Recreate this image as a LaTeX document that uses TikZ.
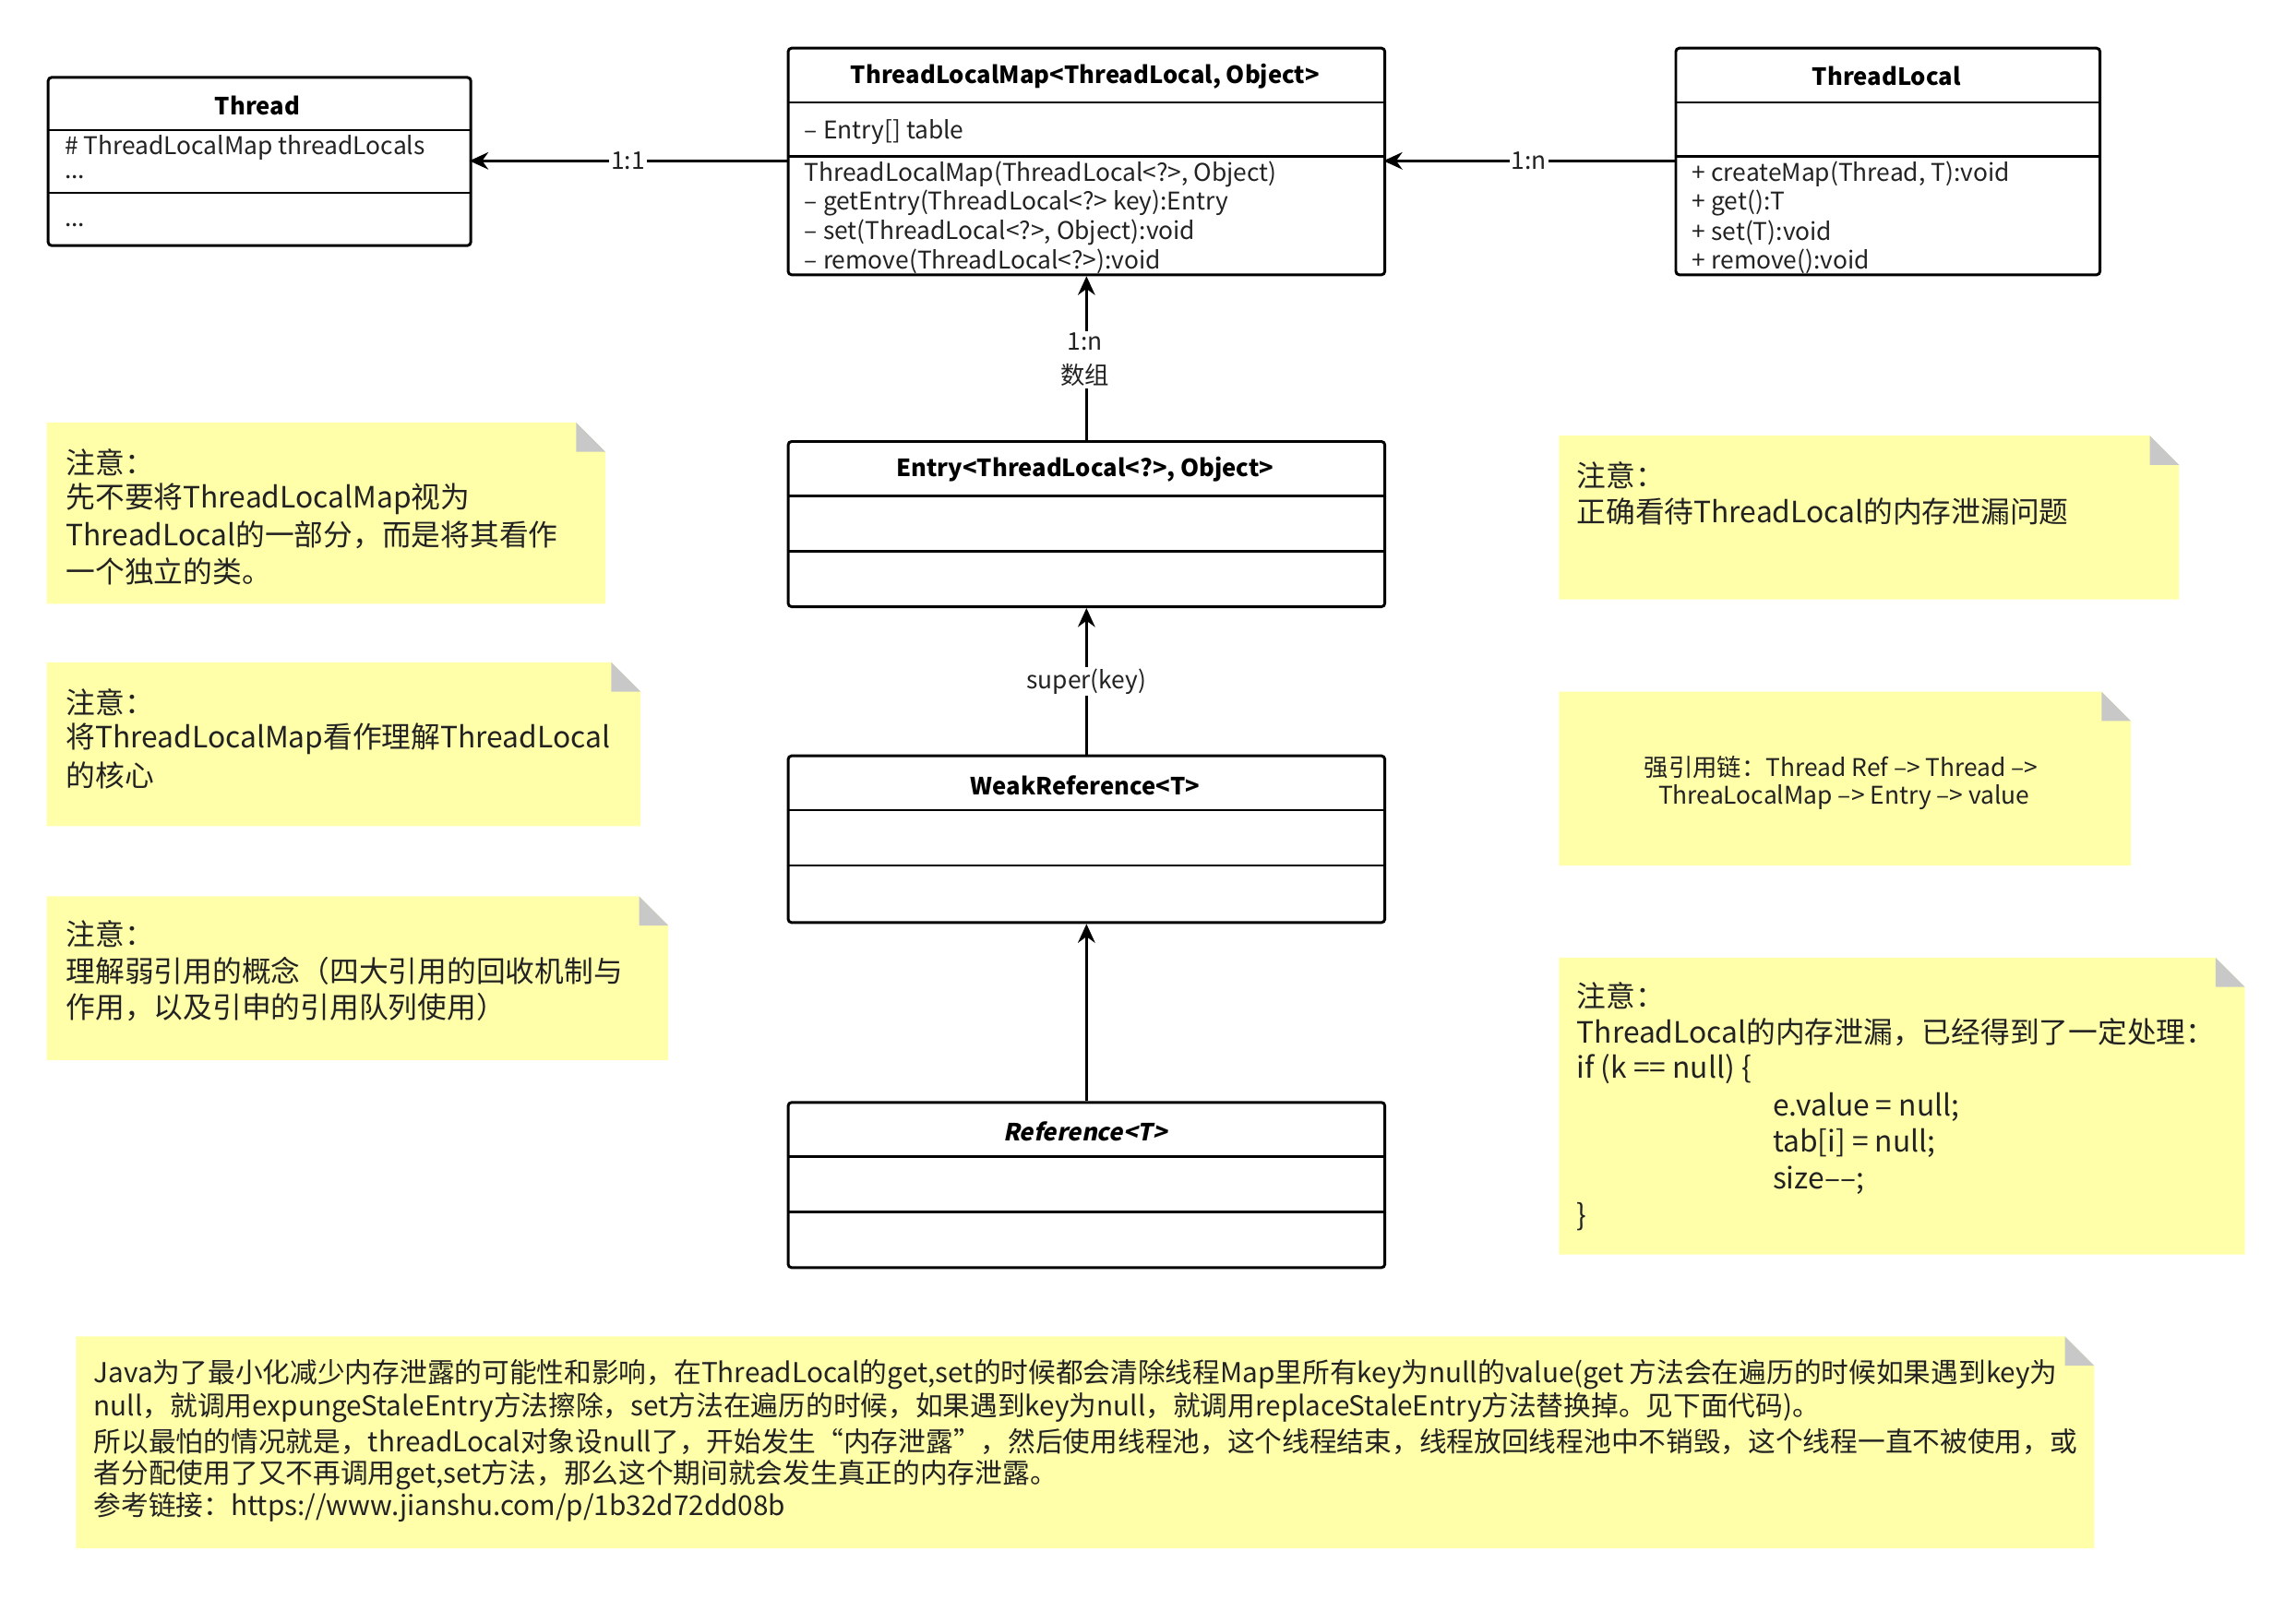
\documentclass[tikz,border=0pt]{standalone}
\usepackage{fontspec}
\setmainfont{Noto Sans CJK SC}
\newfontfamily\slfont[FakeSlant=0.2]{Noto Sans CJK SC}
\usetikzlibrary{arrows.meta}
\definecolor{notey}{HTML}{FFFFAA}
\definecolor{fold}{HTML}{C8C8C8}
\definecolor{txt}{HTML}{222222}
\tikzset{
  cls/.style={draw=black,line width=1.6pt,rounded corners=2pt},
  sep/.style={draw=black,line width=1.4pt},
  ctitle/.style={font=\fontsize{13.8pt}{15pt}\selectfont\bfseries,inner sep=0pt},
  ctext/.style={font=\fontsize{14.2pt}{15pt}\selectfont,anchor=west,inner sep=0pt,text=txt},
  ntext/.style={font=\fontsize{17.1pt}{18pt}\selectfont,anchor=west,inner sep=0pt,text=txt},
  btext/.style={font=\fontsize{16pt}{17pt}\selectfont,anchor=west,inner sep=0pt,text=txt},
  stext/.style={font=\fontsize{14.2pt}{15pt}\selectfont,inner sep=0pt,text=txt},
  ltxt/.style={font=\fontsize{14.2pt}{15pt}\selectfont,fill=white,inner sep=1pt,text=txt},
  conn/.style={line width=1.6pt,-{Stealth[length=11pt,width=10pt]}},
}
\newcommand\umlbox[7]{%
  \node[cls,minimum width=(#4-#2)*0.03cm,minimum height=(#5-#3)*0.03cm,anchor=north west] (#1) at (#2,#3) {};
  \draw[sep] (#2,#6) -- (#4,#6);
  \draw[sep] (#2,#7) -- (#4,#7);}
\newcommand\note[5]{%
  \fill[notey] (#2,#3) -- (#4-20,#3) -- (#4,#3+20) -- (#4,#5) -- (#2,#5) -- cycle;
  \fill[fold] (#4-20,#3) -- (#4,#3+20) -- (#4-20,#3+20) -- cycle;
  \coordinate (#1) at (#2,#3);}
\begin{document}
\begin{tikzpicture}[x=0.03cm,y=-0.03cm]
\useasboundingbox (0,0) rectangle (1570,1093);
% classes
\umlbox{thread}{32}{52}{321}{167}{89}{132}
\node[ctitle] (tt) at (176,72) {Thread};
\node[ctext] (t1) at (44,101) {\# ThreadLocalMap threadLocals};
\node[ctext] (t2) at (44,121) {...};
\node[ctext] (t3) at (44,154) {...};
\umlbox{tlm}{538}{32}{946}{187}{70}{107}
\node[ctitle] (mt) at (742,52) {ThreadLocalMap<ThreadLocal, Object>};
\node[ctext] (m0) at (550,90) {– Entry[] table};
\node[ctext] (m1) at (550,119) {ThreadLocalMap(ThreadLocal<?>, Object)};
\node[ctext] (m2) at (550,139) {– getEntry(ThreadLocal<?> key):Entry};
\node[ctext] (m3) at (550,159) {– set(ThreadLocal<?>, Object):void};
\node[ctext] (m4) at (550,179) {– remove(ThreadLocal<?>):void};
\umlbox{tl}{1145}{32}{1435}{187}{70}{107}
\node[ctitle] (lt) at (1290,52) {ThreadLocal};
\node[ctext] (l1) at (1157,119) {+ createMap(Thread, T):void};
\node[ctext] (l2) at (1157,139) {+ get():T};
\node[ctext] (l3) at (1157,159) {+ set(T):void};
\node[ctext] (l4) at (1157,179) {+ remove():void};
\umlbox{entry}{538}{301}{946}{414}{339}{377}
\node[ctitle] (et) at (742,321) {Entry<ThreadLocal<?>, Object>};
\umlbox{weak}{538}{516}{946}{630}{554}{592}
\node[ctitle] (wt) at (742,537) {WeakReference<T>};
\umlbox{ref}{538}{753}{946}{866}{791}{829}
\node[ctitle] (rt) at (742,774) {\slfont\bfseries Reference<T>};
% connectors
\coordinate (a1) at (538,110); \coordinate (a2) at (321,110);
\draw[conn] (a1) -- node[ltxt,pos=0.5] {1:1} (a2);
\coordinate (b1) at (1145,110); \coordinate (b2) at (946,110);
\draw[conn] (b1) -- node[ltxt,pos=0.5] {1:n} (b2);
\draw[conn] (entry.north) -- (tlm.south);
\node[ltxt,align=center,font=\fontsize{14.2pt}{20pt}\selectfont] (lb) at (742,246) {1:n\\数组};
\draw[conn] (weak.north) -- node[ltxt] {super(key)} (entry.south);
\draw[conn] (ref.north) -- (weak.south);
% notes
\note{n1}{32}{289}{414}{413}
\node[ntext] at (45,316) {注意：};
\node[ntext] at (45,341) {先不要将ThreadLocalMap视为};
\node[ntext] at (45,366) {ThreadLocal的一部分，而是将其看作};
\node[ntext] at (45,391) {一个独立的类。};
\note{n2}{32}{453}{438}{565}
\node[ntext] at (45,480) {注意：};
\node[ntext] at (45,505) {将ThreadLocalMap看作理解ThreadLocal};
\node[ntext] at (45,530) {的核心};
\note{n3}{32}{613}{457}{725}
\node[ntext] at (45,639) {注意：};
\node[ntext] at (45,664) {理解弱引用的概念（四大引用的回收机制与};
\node[ntext] at (45,689) {作用，以及引申的引用队列使用）};
\note{n4}{1066}{298}{1490}{410}
\node[ntext] at (1078,325) {注意：};
\node[ntext] at (1078,350) {正确看待ThreadLocal的内存泄漏问题};
\note{n5}{1066}{473}{1457}{592}
\node[stext] at (1259,525) {强引用链：Thread Ref –> Thread –>};
\node[stext] at (1261,545) {ThreaLocalMap –> Entry –> value};
\note{n6}{1066}{655}{1535}{858}
\node[ntext] at (1078,681) {注意：};
\node[ntext] at (1078,706) {ThreadLocal的内存泄漏，已经得到了一定处理：};
\node[ntext] at (1078,731) {if (k == null) \{};
\node[ntext] at (1212,757) {e.value = null;};
\node[ntext] at (1212,782) {tab[i] = null;};
\node[ntext] at (1212,807) {size––;};
\node[ntext] at (1078,832) {\}};
\note{n7}{52}{914}{1432}{1059}
\node[btext] at (64,940) {Java为了最小化减少内存泄露的可能性和影响，在ThreadLocal的get,set的时候都会清除线程Map里所有key为null的value(get 方法会在遍历的时候如果遇到key为};
\node[btext] at (64,963) {null，就调用expungeStaleEntry方法擦除，set方法在遍历的时候，如果遇到key为null，就调用replaceStaleEntry方法替换掉。见下面代码)。};
\node[btext] at (64,986) {所以最怕的情况就是，threadLocal对象设null了，开始发生“内存泄露”，然后使用线程池，这个线程结束，线程放回线程池中不销毁，这个线程一直不被使用，或};
\node[btext] at (64,1009) {者分配使用了又不再调用get,set方法，那么这个期间就会发生真正的内存泄露。};
\node[btext] at (64,1031) {参考链接：https://www.jianshu.com/p/1b32d72dd08b};
\end{tikzpicture}
\end{document}
